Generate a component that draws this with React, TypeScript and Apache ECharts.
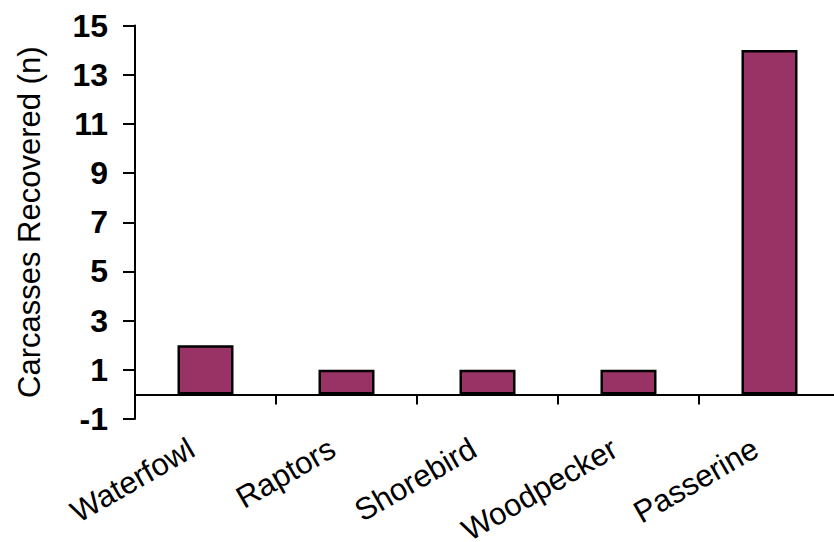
import React, { useEffect, useRef } from "react";
import * as echarts from "echarts";

const categories = ["Waterfowl", "Raptors", "Shorebird", "Woodpecker", "Passerine"];
const carcasses = [2, 1, 1, 1, 14];
const yTicks = [-1, 1, 3, 5, 7, 9, 11, 13, 15];
const yMin = -1;
const yMax = 15;

export default function App() {
  const ref = useRef<HTMLDivElement>(null);
  useEffect(() => {
    if (!ref.current) return;
    const chart = echarts.init(ref.current, null, { renderer: "svg" });
    const font = "'Liberation Sans', Arial, sans-serif";
    chart.setOption({
      animation: false,
      backgroundColor: "#ffffff",
      grid: { left: 135, top: 25.5, width: 705, bottom: 123, containLabel: false, outerBoundsMode: "none" },
      xAxis: {
        type: "category",
        data: categories,
        boundaryGap: true,
        axisLine: { show: true, onZero: true, lineStyle: { color: "#000", width: 2 } },
        axisTick: { show: true, inside: false, length: 10, lineStyle: { color: "#000", width: 2 } },
        axisLabel: {
          rotate: 30,
          margin: 19,
          padding: [0, 16, 0, 0],
          color: "#000",
          fontSize: 31,
          fontFamily: font,
          interval: 0,
        },
        splitLine: { show: false },
      },
      yAxis: {
        type: "value",
        min: yMin,
        max: yMax,
        name: "Carcasses Recovered (n)",
        nameLocation: "middle",
        nameGap: 90,
        nameTextStyle: { color: "#000", fontSize: 31, fontFamily: font },
        axisLine: { show: true, lineStyle: { color: "#000", width: 2 } },
        axisTick: { show: true, length: 12, customValues: yTicks, lineStyle: { color: "#000", width: 2 } },
        axisLabel: {
          customValues: yTicks,
          margin: 27,
          color: "#000",
          fontSize: 32,
          fontWeight: "bold",
          fontFamily: font,
        },
        splitLine: { show: false },
      },
      series: [
        {
          type: "bar",
          data: carcasses,
          barWidth: 56,
          itemStyle: { color: "#993366", borderColor: "#000", borderWidth: 2.5 },
        },
      ],
    });
    return () => chart.dispose();
  }, []);
  return <div ref={ref} style={{ width: 834, height: 542, position: "absolute", left: 0, top: 0 }} />;
}
